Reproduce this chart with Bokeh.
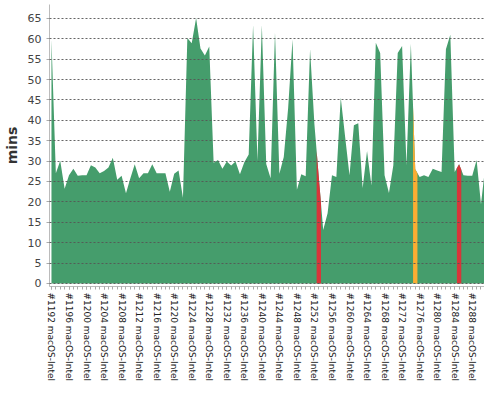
from bokeh.plotting import figure
from bokeh.models import Range1d, FixedTicker
from bokeh.embed import file_html
from bokeh.resources import INLINE

# ---- data -------------------------------------------------------------
builds = list(range(1192, 1292))
platform = "macOS-Intel"

durations = [
    59.8, 27.0, 30.1, 23.2, 26.5, 28.1, 26.4, 26.5, 26.5, 29.0,
    28.4, 27.0, 27.6, 28.4, 30.8, 25.4, 26.4, 22.1, 25.8, 29.2,
    25.8, 27.0, 27.0, 29.2, 27.0, 27.0, 27.0, 22.5, 26.9, 27.7,
    21.0, 60.2, 58.9, 65.1, 57.6, 55.9, 58.1, 29.6, 30.3, 28.1,
    29.9, 28.9, 29.9, 26.8, 29.7, 31.6, 63.4, 30.1, 63.4, 29.3,
    25.8, 61.6, 26.9, 31.0, 43.0, 59.8, 23.0, 26.8, 26.3, 57.4,
    39.0, 26.0, 13.1, 17.2, 26.5, 26.1, 45.6, 36.0, 26.5, 38.8,
    39.3, 23.4, 32.5, 24.0, 59.0, 56.5, 26.5, 22.2, 29.0, 56.5,
    58.2, 29.0, 58.8, 28.0, 26.1, 26.5, 26.1, 28.1, 27.7, 27.3,
    57.4, 61.0, 27.3, 29.2, 26.5, 26.4, 26.4, 30.3, 19.4, 29.0,
]

failed_builds = [1253, 1285]
cancelled_builds = [1275]

y_ticks = list(range(0, 70, 5))

GREEN = "#459d6c"
RED = "#d7363a"
YELLOW = "#fbad33"
FONT = "DejaVu Sans"

# ---- figure -----------------------------------------------------------
idx = list(range(len(builds)))

p = figure(
    width=484, height=384,
    output_backend="svg", toolbar_location=None,
    x_range=Range1d(-0.45, 98.8), y_range=Range1d(-0.75, 68.4),
    min_border_left=48, min_border_right=0, min_border_top=4, min_border_bottom=0,
)
p.outline_line_color = None
p.background_fill_color = "white"

p.varea(x=idx, y1=0, y2=durations, fill_color=GREEN)


def band(build, color):
    k = builds.index(build)
    v = durations[k]
    left = (durations[k - 1] + v) / 2 if k > 0 else v
    right = (durations[k + 1] + v) / 2 if k + 1 < len(durations) else v
    p.varea(x=[k - 0.5, k, k + 0.5], y1=0, y2=[left, v, right], fill_color=color)


for b in failed_builds:
    band(b, RED)
for b in cancelled_builds:
    band(b, YELLOW)

# grid
p.xgrid.visible = False
p.ygrid.ticker = FixedTicker(ticks=y_ticks)
p.ygrid.grid_line_color = "#555555"
p.ygrid.grid_line_dash = "2 2"
p.ygrid.grid_line_alpha = 0.9
p.ygrid.level = "overlay"

# y axis
ya = p.yaxis[0]
ya.ticker = FixedTicker(ticks=y_ticks)
ya.axis_label = "mins"
ya.axis_label_text_font = FONT
ya.axis_label_text_font_size = "14px"
ya.axis_label_text_font_style = "bold"
ya.axis_label_text_color = "#333333"
ya.axis_label_standoff = 5
ya.major_label_text_font = FONT
ya.major_label_text_font_size = "11px"
ya.major_label_text_color = "#444444"
ya.major_label_standoff = 5
ya.major_tick_out = 3
ya.major_tick_in = 0
ya.major_tick_line_color = "#aaaaaa"
ya.minor_tick_line_color = None
ya.axis_line_color = "#bbbbbb"

# x axis
xa = p.xaxis[0]
xa.ticker = FixedTicker(ticks=list(range(0, len(builds), 4)), minor_ticks=idx)
xa.major_label_overrides = {i: f"#{builds[i]} {platform}" for i in range(0, len(builds), 4)}
xa.major_label_orientation = "vertical"
xa.major_label_text_font = FONT
xa.major_label_text_font_size = "9px"
xa.major_label_text_color = "#222222"
xa.major_label_standoff = 3
xa.axis_label_standoff = 0
xa.major_tick_out = 3
xa.major_tick_in = 0
xa.minor_tick_out = 3
xa.minor_tick_in = 0
xa.major_tick_line_color = "#aaaaaa"
xa.minor_tick_line_color = "#aaaaaa"
xa.axis_line_color = "#bbbbbb"

open("out.html", "w").write(file_html(p, INLINE))
